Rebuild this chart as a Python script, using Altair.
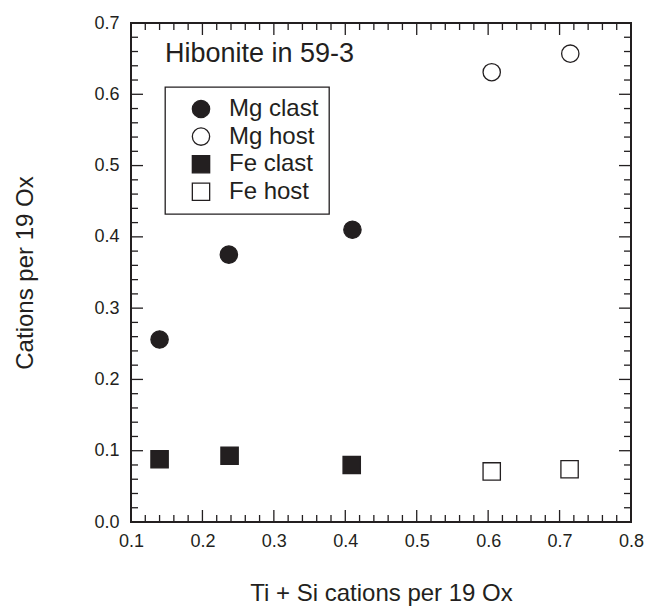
import altair as alt
import pandas as pd

FONT = "Liberation Sans"
INK = "#231f20"

series = ["Mg clast", "Mg host", "Fe clast", "Fe host"]
shapes = ["circle", "circle", "square", "square"]
fills = [INK, "white", INK, "white"]
strokes = [INK, INK, INK, INK]

mg_clast_x = [0.140, 0.237, 0.410]
mg_clast_y = [0.256, 0.375, 0.410]
mg_host_x = [0.605, 0.715]
mg_host_y = [0.631, 0.657]
fe_clast_x = [0.140, 0.238, 0.409]
fe_clast_y = [0.088, 0.093, 0.080]
fe_host_x = [0.605, 0.714]
fe_host_y = [0.071, 0.074]

x_major = [0.1, 0.2, 0.3, 0.4, 0.5, 0.6, 0.7, 0.8]
y_major = [0.0, 0.1, 0.2, 0.3, 0.4, 0.5, 0.6, 0.7]
x_minor = [round(0.1 + 0.02 * i, 2) for i in range(36) if i % 5 != 0]
y_minor = [round(0.02 * i, 2) for i in range(36) if i % 5 != 0]

W, H = 500, 499
MAJ, MIN = 12, 7

rows = []
for name, xs, ys in [("Mg clast", mg_clast_x, mg_clast_y),
                     ("Mg host", mg_host_x, mg_host_y),
                     ("Fe clast", fe_clast_x, fe_clast_y),
                     ("Fe host", fe_host_x, fe_host_y)]:
    for a, b in zip(xs, ys):
        rows.append({"x": a, "y": b, "series": name})
df = pd.DataFrame(rows)

xscale = alt.Scale(domain=[0.1, 0.8], nice=False, zero=False)
yscale = alt.Scale(domain=[0.0, 0.7], nice=False, zero=False)

xaxis = alt.Axis(values=x_major, format=".1f", ticks=False, tickSize=0, domain=False, grid=False,
                 labelFont=FONT, labelFontSize=18, labelColor=INK, labelPadding=10,
                 labelFlush=False, labelOverlap=False,
                 title="Ti + Si cations per 19 Ox", titleFont=FONT, titleFontSize=24,
                 titleFontWeight="normal", titleColor=INK, titleX=250, titleY=78,
                 titleBaseline="alphabetic", titleAlign="center")
yaxis = alt.Axis(values=y_major, format=".1f", ticks=False, tickSize=0, domain=False, grid=False,
                 labelFont=FONT, labelFontSize=18, labelColor=INK, labelPadding=12,
                 labelFlush=False, labelOverlap=False,
                 title="Cations per 19 Ox", titleFont=FONT, titleFontSize=24,
                 titleFontWeight="normal", titleColor=INK, titleX=-99, titleY=H / 2,
                 titleAngle=270, titleBaseline="alphabetic", titleAlign="center")


def legend():
    return alt.Legend(orient="none", legendX=34, legendY=64, title=None,
                      strokeColor=INK, fillColor="white", padding=10,
                      labelFont=FONT, labelFontSize=24, labelColor=INK,
                      labelOffset=16, symbolOffset=14, rowPadding=3.6,
                      symbolSize=300, symbolStrokeWidth=1.3)


points = alt.Chart(df).mark_point(filled=True, strokeWidth=1.3, size=300, opacity=1).encode(
    x=alt.X("x:Q", scale=xscale, axis=xaxis),
    y=alt.Y("y:Q", scale=yscale, axis=yaxis),
    fill=alt.Fill("series:N", sort=series, scale=alt.Scale(domain=series, range=fills), legend=legend()),
    stroke=alt.Stroke("series:N", sort=series, scale=alt.Scale(domain=series, range=strokes), legend=legend()),
    shape=alt.Shape("series:N", sort=series, scale=alt.Scale(domain=series, range=shapes), legend=legend()),
)


def xticks(vals, length, top):
    d = pd.DataFrame({"x": vals})
    if top:
        yy, yy2 = 0, length
    else:
        yy, yy2 = H, H - length
    return alt.Chart(d).mark_rule(color=INK, strokeWidth=1.3).encode(
        x=alt.X("x:Q", scale=xscale, axis=xaxis),
        y=alt.value(yy), y2=alt.value(yy2))


def yticks(vals, length, right):
    d = pd.DataFrame({"y": vals})
    if right:
        xx, xx2 = W, W - length
    else:
        xx, xx2 = 0, length
    return alt.Chart(d).mark_rule(color=INK, strokeWidth=1.3).encode(
        y=alt.Y("y:Q", scale=yscale, axis=yaxis),
        x=alt.value(xx), x2=alt.value(xx2))


tick_layers = [
    xticks(x_major, MAJ, False), xticks(x_minor, MIN, False),
    xticks(x_major, MAJ, True), xticks(x_minor, MIN, True),
    yticks(y_major, MAJ, False), yticks(y_minor, MIN, False),
    yticks(y_major, MAJ, True), yticks(y_minor, MIN, True),
]

chart = alt.layer(points, *tick_layers).properties(
    width=W, height=H,
    autosize=alt.AutoSizeParams(type="none"),
    padding={"left": 131, "top": 23, "right": 15, "bottom": 85},
    title=alt.Title("Hibonite in 59-3", anchor="start", frame="group", orient="top",
                    dx=34, dy=75, offset=0, baseline="alphabetic",
                    font=FONT, fontSize=27, fontWeight="normal", color=INK),
).configure_view(
    stroke=INK, strokeWidth=2
).configure_legend(
    strokeWidth=1.3
)

chart.save("out.html", embed_options={"renderer": "svg", "actions": False})
